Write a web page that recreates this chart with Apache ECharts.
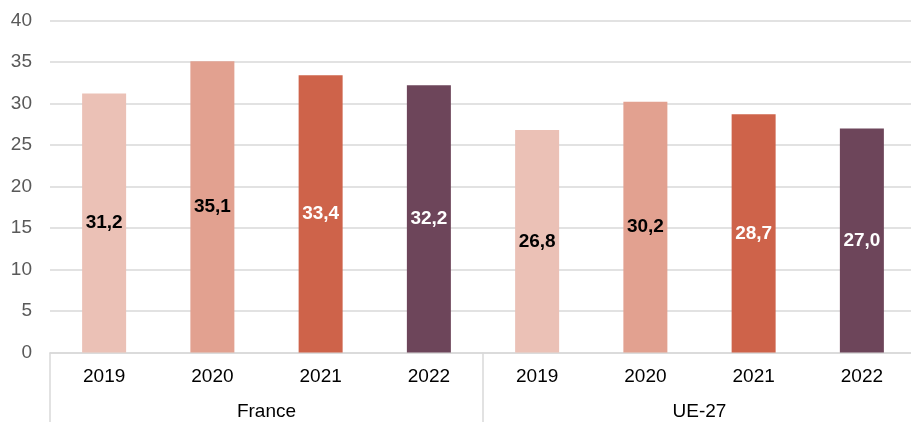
<!DOCTYPE html>
<html><head><meta charset="utf-8">
<script src="https://cdn.jsdelivr.net/npm/echarts@6/dist/echarts.min.js"></script>
<style>html,body{margin:0;padding:0;background:#fff}#c{width:911px;height:422px}</style>
</head><body><div id="c"></div>
<script>
const groups = ['France', 'UE-27'];
const years = ['2019', '2020', '2021', '2022'];
const franceValues = [31.2, 35.1, 33.4, 32.2];
const ue27Values = [26.8, 30.2, 28.7, 27.0];
const yTicks = [0, 5, 10, 15, 20, 25, 30, 35, 40];

const yearColors = ['#EBC1B6', '#E2A190', '#CE634A', '#6D455A'];
const labelColors = ['#000000', '#000000', '#ffffff', '#ffffff'];

const cats = [];
const data = [];
[franceValues, ue27Values].forEach(function (vals) {
  vals.forEach(function (v, i) {
    cats.push(years[i]);
    data.push({
      value: v,
      itemStyle: { color: yearColors[i] },
      label: { color: labelColors[i] }
    });
  });
});

const FONT = 'Liberation Sans, Arial';
const chart = echarts.init(document.getElementById('c'), null, { renderer: 'canvas' });
chart.setOption({
  animation: false,
  grid: { left: 50, width: 866, top: 20.5, height: 332, containLabel: false, outerBoundsMode: 'none' },
  xAxis: [
    {
      type: 'category', data: cats, position: 'bottom',
      axisLine: { show: true, lineStyle: { color: '#d9d9d9', width: 1.5 } },
      axisTick: { show: false },
      axisLabel: { color: '#000', fontSize: 19, fontFamily: FONT, margin: 15 }
    },
    {
      type: 'category', data: groups, position: 'bottom',
      axisLine: { show: false },
      axisTick: { show: true, length: 72, lineStyle: { color: '#d9d9d9', width: 1.5 } },
      axisLabel: { color: '#000', fontSize: 19, fontFamily: FONT, margin: 50 },
      splitLine: { show: false }
    }
  ],
  yAxis: {
    type: 'value', min: yTicks[0], max: yTicks[yTicks.length - 1], interval: 5,
    axisLine: { show: false }, axisTick: { show: false },
    axisLabel: { color: '#595959', fontSize: 19, fontFamily: FONT, margin: 18 },
    splitLine: { lineStyle: { color: '#d9d9d9', width: 1.5 } }
  },
  series: [{
    type: 'bar', xAxisIndex: 0, data: data, barWidth: 44,
    label: {
      show: true, position: 'inside', fontSize: 19, fontWeight: 'bold',
      fontFamily: FONT,
      formatter: function (p) { return p.value.toFixed(1).replace('.', ','); }
    }
  }]
});
</script></body></html>
